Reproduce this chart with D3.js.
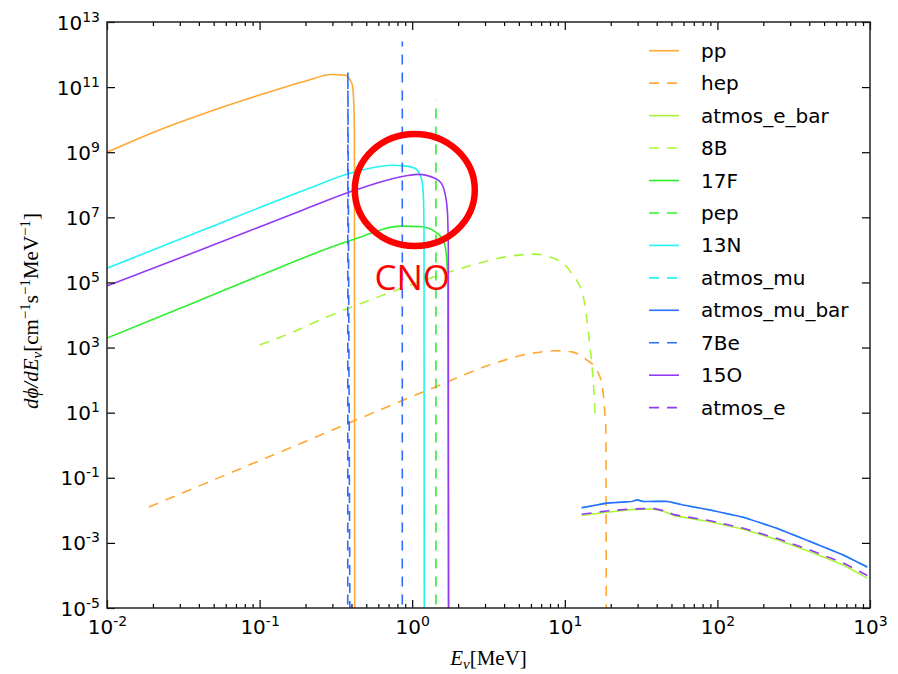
<!DOCTYPE html>
<html>
<head>
<meta charset="utf-8">
<script src="https://cdn.jsdelivr.net/npm/d3@7"></script>
<style>
body { margin: 0; background: #fff; }
svg { display: block; }
</style>
</head>
<body>
<script>
// values: energy in MeV, flux in cm^-1 s^-1 MeV^-1
var ppE = [0.01, 0.0206, 0.0438, 0.0933, 0.198, 0.296, 0.363, 0.402, 0.411, 0.418, 0.42];
var ppF = [1.0e9, 4.27e9, 1.58e10, 5.13e10, 1.51e11, 2.45e11, 2.34e11, 1.32e11, 6.46e10, 4.79e9, 1e-6];

var hepE = [0.0188, 0.2, 1.52, 3.24, 5.32, 8.85, 11.3, 13.9, 16.2, 17.6, 18.3, 18.6, 18.7];
var hepF = [1.26e-2, 1.31, 70.8, 295, 589, 794, 724, 417, 204, 63, 9.8, 2.95, 1e-6];

var b8E = [0.1, 0.184, 0.249, 0.5, 1.0, 1.52, 2.51, 4.16, 6.38, 8.37, 10.3, 11.4, 12.6, 13.6, 14.3, 15.0, 15.5, 15.8];
var b8F = [1.2e3, 3.7e3, 7.1e3, 2.6e4, 8.7e4, 1.7e5, 3.47e5, 6.17e5, 7.41e5, 5.62e5, 3.02e5, 1.51e5, 7.41e4, 1.82e4, 2.75e3, 331, 50, 8.5];

var f17E = [0.01, 0.0418, 0.1, 0.402, 0.853, 1.15, 1.41, 1.60, 1.67, 1.71, 1.735];
var f17F = [1.95e3, 3.0e4, 1.62e5, 2.0e6, 5.37e6, 5.13e6, 3.63e6, 2.0e6, 7.9e5, 1e5, 1e-6];

var pepE = [1.43, 1.43];
var pepF = [1e-6, 3.98e10];

var n13E = [0.01, 0.0438, 0.198, 0.402, 0.735, 0.897, 1.05, 1.12, 1.16, 1.185, 1.195, 1.2];
var n13F = [2.75e5, 4.27e6, 6.92e7, 2.34e8, 3.98e8, 3.8e8, 3.16e8, 2.09e8, 1.26e8, 4.0e7, 3.2e6, 1e-6];

var o15E = [0.01, 0.0438, 0.198, 0.402, 0.897, 1.096, 1.41, 1.55, 1.64, 1.70, 1.725, 1.73];
var o15F = [7.76e4, 1.12e6, 1.78e7, 6.3e7, 1.86e8, 2.09e8, 1.58e8, 1.12e8, 5.5e7, 1.58e7, 1e6, 1e-6];

// two lines, null splits them
var be7E = [0.378, 0.379, 0.391, null, 0.861, 0.861];
var be7F = [1e-6, 2.95e11, 1e-6, null, 1e-6, 2.5e12];

var atmMuE = [12.9, 18.8, 27.4, 29.9, 32.7, 46.6, 59.9, 89.5, 148, 245, 405, 668, 960];
var atmMuF = [1.20e-2, 1.66e-2, 1.86e-2, 2.09e-2, 1.86e-2, 1.91e-2, 1.45e-2, 1.02e-2, 6.17e-3, 2.82e-3, 1.10e-3, 4.27e-4, 1.82e-4];
var atmMuBarF = [1.20e-2, 1.66e-2, 1.86e-2, 2.09e-2, 1.86e-2, 1.91e-2, 1.45e-2, 1.02e-2, 6.17e-3, 2.82e-3, 1.10e-3, 4.27e-4, 1.82e-4];

var atmE = [12.9, 18.8, 27.4, 38.0, 44.2, 52.7, 89.5, 148, 245, 405, 668, 960];
var atmEF = [7.59e-3, 9.55e-3, 1.10e-2, 1.15e-2, 9.77e-3, 7.24e-3, 4.79e-3, 2.82e-3, 1.38e-3, 6.03e-4, 2.40e-4, 1.0e-4];
var atmEBarF = [6.92e-3, 8.71e-3, 1.05e-2, 1.10e-2, 9.33e-3, 6.76e-3, 4.47e-3, 2.63e-3, 1.26e-3, 5.37e-4, 2.09e-4, 8.3e-5];

var xTicks = [1e-2, 1e-1, 1e0, 1e1, 1e2, 1e3];
var xTickExp = ['-2', '-1', '0', '1', '2', '3'];
var yTicks = [1e-5, 1e-3, 1e-1, 1e1, 1e3, 1e5, 1e7, 1e9, 1e11, 1e13];
var yTickExp = ['-5', '-3', '-1', '1', '3', '5', '7', '9', '11', '13'];

var orange = '#ffa833', ygreen = '#a9f53a', green = '#2eef2e',
    cyan = '#22f4f4', blue = '#2d6cff', purple = '#9439f5';

// legend order = draw order
var series = [
  {name: 'pp', E: ppE, F: ppF, color: orange, dash: false, smooth: true},
  {name: 'hep', E: hepE, F: hepF, color: orange, dash: true, smooth: true},
  {name: 'atmos_e_bar', E: atmE, F: atmEBarF, color: ygreen, dash: false, smooth: false},
  {name: '8B', E: b8E, F: b8F, color: ygreen, dash: true, smooth: true},
  {name: '17F', E: f17E, F: f17F, color: green, dash: false, smooth: true},
  {name: 'pep', E: pepE, F: pepF, color: green, dash: true, smooth: false},
  {name: '13N', E: n13E, F: n13F, color: cyan, dash: false, smooth: true},
  {name: 'atmos_mu', E: atmMuE, F: atmMuF, color: cyan, dash: true, smooth: false},
  {name: 'atmos_mu_bar', E: atmMuE, F: atmMuBarF, color: blue, dash: false, smooth: false},
  {name: '7Be', E: be7E, F: be7F, color: blue, dash: true, smooth: false},
  {name: '15O', E: o15E, F: o15F, color: purple, dash: false, smooth: true},
  {name: 'atmos_e', E: atmE, F: atmEF, color: purple, dash: true, smooth: false}
];

// the red CNO mark
var cnoCircle = {E: 1.04, F: 6.9e7};
var cnoText = {E: 1.0, F: 5.9e4, label: 'CNO'};

const w = 898;
const h = 674;
const pLeft = 107, pRight = 870, pTop = 22, pBottom = 608;
const dashes = '10,8';

var xScale = d3.scaleLog().domain([1e-2, 1e3]).range([pLeft, pRight]);
var yScale = d3.scaleLog().domain([1e-5, 1e13]).range([pBottom, pTop]);

var svg = d3.select('body').append('svg')
  .attr('width', w)
  .attr('height', h);

svg.append('clipPath').attr('id', 'plotclip')
  .append('rect')
  .attr('x', pLeft).attr('y', pTop)
  .attr('width', pRight - pLeft).attr('height', pBottom - pTop);

var plot = svg.append('g').attr('clip-path', 'url(#plotclip)');

series.forEach(function(s) {
  var pts = s.E.map(function(e, i) { return [e, s.F[i]]; });
  var line = d3.line()
    .defined(function(d) { return d[0] != null; })
    .x(function(d) { return xScale(d[0]); })
    .y(function(d) { return yScale(d[1]); })
    .curve(s.smooth ? d3.curveMonotoneX : d3.curveLinear);
  plot.append('path')
    .datum(pts)
    .attr('d', line)
    .attr('fill', 'none')
    .attr('stroke', s.color)
    .attr('stroke-width', 1.6)
    .attr('stroke-dasharray', s.dash ? dashes : null);
});

// axes with inward ticks
var minorX = xScale.ticks().filter(function(v) {
  return Math.abs(Math.log10(v) - Math.round(Math.log10(v))) > 1e-6;
});

function tickAxis(axisFn, vals, size, tr) {
  var g = svg.append('g')
    .attr('transform', tr)
    .call(axisFn.tickValues(vals).tickSizeInner(-size).tickSizeOuter(0).tickFormat(''));
  g.select('.domain').remove();
  g.selectAll('.tick line').attr('stroke', '#000').attr('stroke-width', 1.2);
  return g;
}

var xb = tickAxis(d3.axisBottom(xScale), xTicks, 8, 'translate(0,' + pBottom + ')');
tickAxis(d3.axisBottom(xScale), minorX, 4, 'translate(0,' + pBottom + ')');
tickAxis(d3.axisTop(xScale), xTicks, 8, 'translate(0,' + pTop + ')');
tickAxis(d3.axisTop(xScale), minorX, 4, 'translate(0,' + pTop + ')');
var yl = tickAxis(d3.axisLeft(yScale), yTicks, 8, 'translate(' + pLeft + ',0)');
tickAxis(d3.axisRight(yScale), yTicks, 8, 'translate(' + pRight + ',0)');

function powLabel(sel, exp) {
  sel.text(null);
  sel.append('tspan').text('10');
  sel.append('tspan').attr('dy', -8).attr('font-size', 14).text(exp);
}

xb.selectAll('.tick text')
  .attr('y', 26).attr('dy', null)
  .attr('font-family', 'DejaVu Sans').attr('font-size', 20).attr('fill', '#000')
  .each(function(d, i) { powLabel(d3.select(this), xTickExp[i]); });

yl.selectAll('.tick text')
  .attr('x', -7).attr('dy', null).attr('y', 7)
  .attr('text-anchor', 'end')
  .attr('font-family', 'DejaVu Sans').attr('font-size', 20).attr('fill', '#000')
  .each(function(d, i) { powLabel(d3.select(this), yTickExp[i]); });

// frame
svg.append('rect')
  .attr('x', pLeft).attr('y', pTop)
  .attr('width', pRight - pLeft).attr('height', pBottom - pTop)
  .attr('fill', 'none')
  .attr('stroke', '#222')
  .attr('stroke-width', 1.5);

// axis titles
var xt = svg.append('text')
  .attr('x', (pLeft + pRight) / 2).attr('y', 665)
  .attr('text-anchor', 'middle')
  .attr('font-family', 'Liberation Serif').attr('font-size', 21).attr('fill', '#000');
xt.append('tspan').attr('font-style', 'italic').text('E');
xt.append('tspan').attr('font-style', 'italic').attr('font-size', 15).attr('dy', 4).text('ν');
xt.append('tspan').attr('dy', -4).text('[MeV]');

var yt = svg.append('text')
  .attr('transform', 'translate(38,' + ((pTop + pBottom) / 2 - 4) + ') rotate(-90)')
  .attr('text-anchor', 'middle')
  .attr('font-family', 'Liberation Serif').attr('font-size', 21).attr('fill', '#000');
yt.append('tspan').attr('font-style', 'italic').text('dϕ/dE');
yt.append('tspan').attr('font-style', 'italic').attr('font-size', 15).attr('dy', 4).text('ν');
yt.append('tspan').attr('dy', -4).text('[cm');
yt.append('tspan').attr('font-size', 15).attr('dy', -8).text('−1');
yt.append('tspan').attr('dy', 8).text('s');
yt.append('tspan').attr('font-size', 15).attr('dy', -8).text('−1');
yt.append('tspan').attr('dy', 8).text('MeV');
yt.append('tspan').attr('font-size', 15).attr('dy', -8).text('−1');
yt.append('tspan').attr('dy', 8).text(']');

// legend
var legend = svg.append('g').attr('transform', 'translate(649,50.7)');
series.forEach(function(s, i) {
  var row = legend.append('g').attr('transform', 'translate(0,' + (i * 32.45) + ')');
  row.append('line')
    .attr('x1', 0).attr('x2', 30)
    .attr('stroke', s.color)
    .attr('stroke-width', 1.6)
    .attr('stroke-dasharray', s.dash ? dashes : null);
  row.append('text')
    .attr('x', 52).attr('y', 7)
    .attr('font-family', 'DejaVu Sans').attr('font-size', 20).attr('fill', '#000')
    .text(s.name);
});

// CNO highlight
svg.append('ellipse')
  .attr('cx', xScale(cnoCircle.E)).attr('cy', yScale(cnoCircle.F))
  .attr('rx', 60).attr('ry', 56)
  .attr('fill', 'none')
  .attr('stroke', '#ff0000')
  .attr('stroke-width', 6.5);

svg.append('text')
  .attr('x', xScale(cnoText.E)).attr('y', yScale(cnoText.F))
  .attr('text-anchor', 'middle')
  .attr('font-family', 'Open Sans').attr('font-size', 35).attr('fill', '#ff0000')
  .text(cnoText.label);
</script>
</body>
</html>
